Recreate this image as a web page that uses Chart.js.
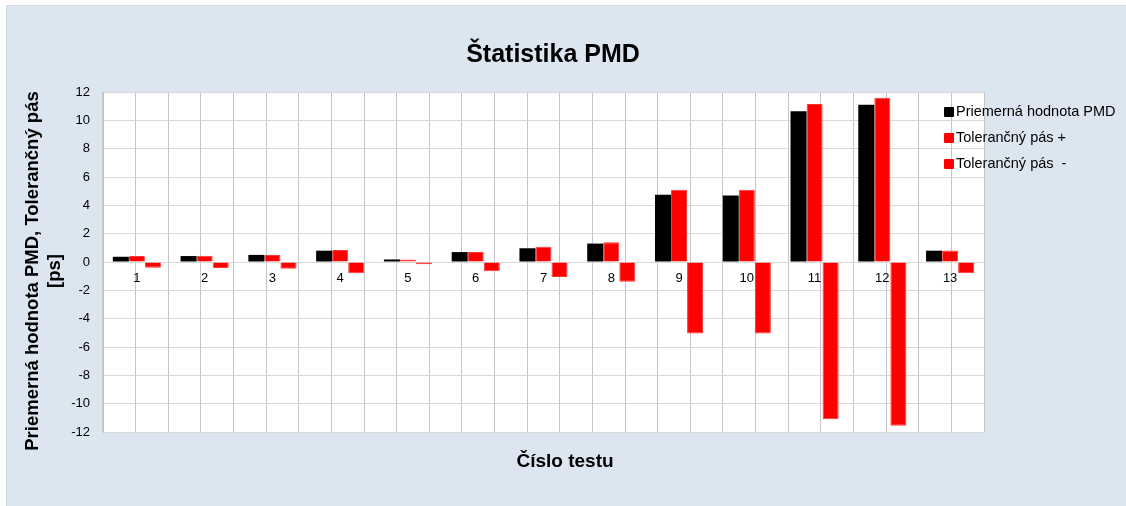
<!DOCTYPE html>
<html lang="sk">
<head>
    <meta charset="UTF-8">
    <title>Štatistika PMD</title>
    <script src="https://cdn.jsdelivr.net/npm/chart.js"></script>
    <style>
        body { margin: 0; background: #fff; font-family: 'Liberation Sans', Arial, sans-serif; }
        #wrap { position: relative; width: 1126px; height: 506px; overflow: hidden; }
        #panel {
            position: absolute; left: 6px; top: 5px; width: 1119px; height: 501px;
            background: #dce6f1; border: 1px solid #d3d6da; border-bottom: none;
        }
        #pmdChart { position: absolute; left: 0; top: 0; }
        .caption { position: absolute; font-weight: bold; color: #000; text-align: center; white-space: nowrap; }
        #chartTitle { left: 353px; top: 38px; width: 400px; font-size: 25px; line-height: 30px; }
        #xTitle { left: 415px; top: 449px; width: 300px; font-size: 19px; line-height: 24px; }
        #yTitle {
            left: -157px; top: 249px; width: 400px; height: 44px;
            font-size: 18.5px; line-height: 22px; transform: rotate(-90deg);
        }
        #legend { position: absolute; left: 944px; top: 98px; font-size: 14.5px; color: #000; }
        #legend div { height: 26px; line-height: 26px; white-space: pre; }
        #legend span { display: inline-block; width: 10px; height: 10px; margin-right: 2px; vertical-align: -1px; border-radius: 1px; }
    </style>
</head>
<body>
    <div id="wrap">
        <div id="panel"></div>
        <canvas id="pmdChart" width="1126" height="506"></canvas>
        <div class="caption" id="chartTitle">Štatistika PMD</div>
        <div class="caption" id="yTitle">Priemerná hodnota PMD, Tolerančný pás<br>[ps]</div>
        <div class="caption" id="xTitle">Číslo testu</div>
        <div id="legend"></div>
    </div>
    <script>
        const tests = ['1', '2', '3', '4', '5', '6', '7', '8', '9', '10', '11', '12', '13'];
        const pmdMean = [0.37, 0.42, 0.5, 0.8, 0.18, 0.7, 0.97, 1.3, 4.75, 4.7, 10.65, 11.1, 0.8];
        const tolPlus = [0.42, 0.44, 0.5, 0.85, 0.18, 0.7, 1.07, 1.4, 5.1, 5.1, 11.15, 11.6, 0.82];
        const tolMinus = [-0.4, -0.42, -0.47, -0.8, -0.15, -0.66, -1.06, -1.4, -5.05, -5.05, -11.1, -11.55, -0.8];
        const yTicks = [-12, -10, -8, -6, -4, -2, 0, 2, 4, 6, 8, 10, 12];

        Chart.defaults.font.family = "'Liberation Sans', Arial, sans-serif";
        Chart.defaults.color = '#000';

        // white plot area on top of the blue panel
        const plotBackground = {
            id: 'plotBackground',
            beforeDraw(chart) {
                const { ctx, chartArea: a } = chart;
                ctx.save();
                ctx.fillStyle = '#fff';
                ctx.fillRect(a.left, a.top, a.right - a.left, a.bottom - a.top);
                ctx.restore();
            }
        };

        const ctx = document.getElementById('pmdChart').getContext('2d');
        const chart = new Chart(ctx, {
            type: 'bar',
            data: {
                labels: tests,
                datasets: [
                    { label: 'Priemerná hodnota PMD', data: pmdMean, backgroundColor: '#000', borderWidth: 0 },
                    { label: 'Tolerančný pás +', data: tolPlus, backgroundColor: '#ff0000', borderColor: '#ff3333', borderWidth: 1, borderRadius: 1 },
                    { label: 'Tolerančný pás  -', data: tolMinus, backgroundColor: '#ff0000', borderColor: '#ff3333', borderWidth: 1, borderRadius: 1 }
                ]
            },
            options: {
                responsive: false,
                animation: false,
                categoryPercentage: 0.71,
                barPercentage: 1,
                layout: { padding: { left: 6, right: 142, top: 92, bottom: 74 } },
                scales: {
                    x: {
                        type: 'category',
                        position: { y: 0 },
                        offset: true,
                        grid: { display: false, drawTicks: false },
                        border: { display: false },
                        ticks: { font: { size: 13 }, padding: 9, color: '#000' }
                    },
                    // half-category vertical grid
                    xGrid: {
                        type: 'linear',
                        position: { y: 0 },
                        min: 0.5,
                        max: 13.5,
                        ticks: { display: false, stepSize: 0.5 },
                        grid: { color: '#c4c4c4', drawTicks: false },
                        border: { display: false }
                    },
                    y: {
                        min: -12,
                        max: 12,
                        afterFit(scale) { scale.width = 97; },
                        afterBuildTicks(scale) { scale.ticks = yTicks.map(v => ({ value: v })); },
                        grid: { color: '#d9d9d9', drawTicks: false },
                        border: { display: true, color: '#c4c4c4' },
                        ticks: { font: { size: 13 }, padding: 13, color: '#000' }
                    }
                },
                plugins: {
                    legend: { display: false },
                    tooltip: { enabled: false }
                }
            },
            plugins: [plotBackground]
        });

        // legend sits over the right edge of the plot area
        const legend = document.getElementById('legend');
        chart.data.datasets.forEach(ds => {
            const row = document.createElement('div');
            const box = document.createElement('span');
            box.style.background = ds.backgroundColor;
            row.appendChild(box);
            row.appendChild(document.createTextNode(ds.label));
            legend.appendChild(row);
        });
    </script>
</body>
</html>
